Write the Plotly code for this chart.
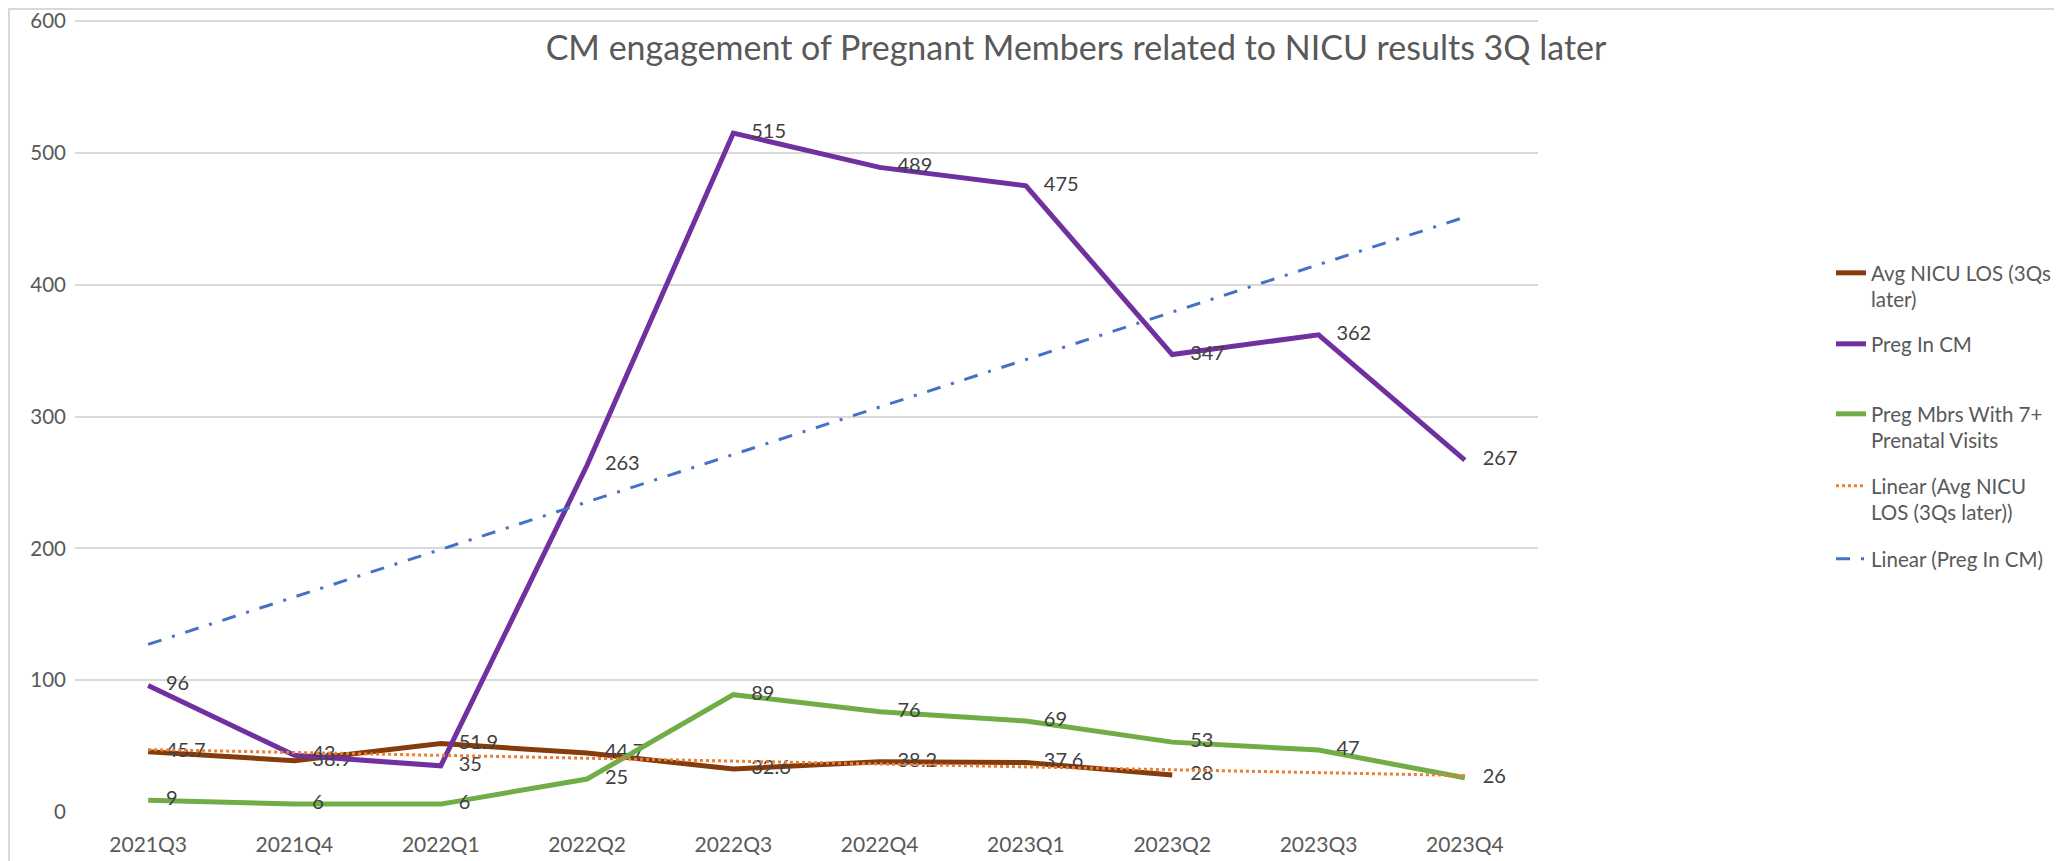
import numpy as np
import plotly.graph_objects as go

quarters = ["2021Q3", "2021Q4", "2022Q1", "2022Q2", "2022Q3",
            "2022Q4", "2023Q1", "2023Q2", "2023Q3", "2023Q4"]
avg_nicu_los = [45.7, 38.9, 51.9, 44.7, 32.6, 38.2, 37.6, 28, None, None]
preg_in_cm = [96, 43, 35, 263, 515, 489, 475, 347, 362, 267]
preg_7plus_visits = [9, 6, 6, 25, 89, 76, 69, 53, 47, 26]

# page body has an 8px margin; work in page pixels and subtract it
OFF = 8
PAGE_W, PAGE_H = 2062, 861
W, H = PAGE_W - OFF, PAGE_H - OFF
FONT = "Lato"
TXT = "#404040"
AX = "#595959"


def linear_trend(values):
    idx = np.arange(1, len(values) + 1, dtype=float)
    vals = np.array([np.nan if v is None else v for v in values], dtype=float)
    ok = ~np.isnan(vals)
    slope, intercept = np.polyfit(idx[ok], vals[ok], 1)
    return list(slope * idx + intercept)


fig = go.Figure()

label_font = dict(family=FONT, size=20, color=TXT)
ghost = dict(size=27, color="rgba(0,0,0,0)", line=dict(width=0))

fig.add_trace(go.Scatter(
    x=quarters, y=avg_nicu_los, mode="lines+markers+text",
    name="Avg NICU LOS (3Qs<br>later)", legend="legend",
    line=dict(color="#843C0C", width=5), marker=ghost,
    texttemplate="%{y}", textposition="middle right", textfont=label_font,
    connectgaps=False,
))
fig.add_trace(go.Scatter(
    x=quarters, y=preg_in_cm, mode="lines+markers+text",
    name="Preg In CM", legend="legend2",
    line=dict(color="#7030A0", width=5), marker=ghost,
    texttemplate="%{y}", textposition="middle right", textfont=label_font,
))
fig.add_trace(go.Scatter(
    x=quarters, y=preg_7plus_visits, mode="lines+markers+text",
    name="Preg Mbrs With 7+<br>Prenatal Visits", legend="legend3",
    line=dict(color="#70AD47", width=5), marker=ghost,
    texttemplate="%{y}", textposition="middle right", textfont=label_font,
))
fig.add_trace(go.Scatter(
    x=quarters, y=linear_trend(avg_nicu_los), mode="lines",
    name="Linear (Avg NICU<br>LOS (3Qs later))", legend="legend4",
    line=dict(color="#ED7D31", width=3, dash="dot"),
))
fig.add_trace(go.Scatter(
    x=quarters, y=linear_trend(preg_in_cm), mode="lines",
    name="Linear (Preg In CM)", legend="legend5",
    line=dict(color="#4472C4", width=3, dash="14px,11px,3px,11px"),
))

plot_l, plot_r, plot_t, plot_b = 75 - OFF, 1538 - OFF, 20 - OFF, 812 - OFF
pw, ph = plot_r - plot_l, plot_b - plot_t


def legend_at(row_center_page):
    return dict(
        x=(1831 - OFF) / W, xanchor="left", xref="container",
        y=1 - (row_center_page - 19 - OFF) / H, yanchor="top", yref="container",
        font=dict(family=FONT, size=20.5, color=AX),
        valign="top", bgcolor="rgba(0,0,0,0)",
    )


fig.update_layout(
    width=W, height=H,
    margin=dict(l=plot_l, r=W - plot_r, t=plot_t, b=H - plot_b, autoexpand=False),
    paper_bgcolor="white", plot_bgcolor="white",
    font=dict(family=FONT, color=AX),
    title=dict(
        text="CM engagement of Pregnant Members related to NICU results 3Q later",
        x=(1076 - OFF) / W, xanchor="center", xref="container",
        y=1 - (48 - OFF) / H, yanchor="middle", yref="container",
        font=dict(family=FONT, size=34, color=AX),
    ),
    xaxis=dict(
        type="category", range=[-0.5, 9.5],
        showgrid=False, showline=False, zeroline=False, ticks="",
        tickfont=dict(family=FONT, size=21, color=AX),
        ticklabelstandoff=18,
    ),
    yaxis=dict(
        range=[0, 600.8], tickvals=[0, 100, 200, 300, 400, 500, 600],
        showgrid=True, gridcolor="#D9D9D9", gridwidth=1.5,
        zeroline=False, showline=False, ticks="",
        tickfont=dict(family=FONT, size=20.5, color=AX),
        ticklabelstandoff=8, ticklabeloverflow="allow",
    ),
    legend=legend_at(272),
    legend2=legend_at(343),
    legend3=legend_at(413),
    legend4=legend_at(485),
    legend5=legend_at(558),
    showlegend=True,
    shapes=[
        dict(type="line", xref="paper", yref="paper",
             x0=-plot_l / pw, x1=(W - plot_l) / pw,
             y0=(plot_b - 1) / ph, y1=(plot_b - 1) / ph,
             line=dict(color="#D9D9D9", width=2)),
        dict(type="line", xref="paper", yref="paper",
             x0=(1 - plot_l) / pw, x1=(1 - plot_l) / pw,
             y0=(plot_b - H) / ph, y1=plot_b / ph,
             line=dict(color="#D9D9D9", width=2)),
    ],
)

fig.write_html("out.html")
